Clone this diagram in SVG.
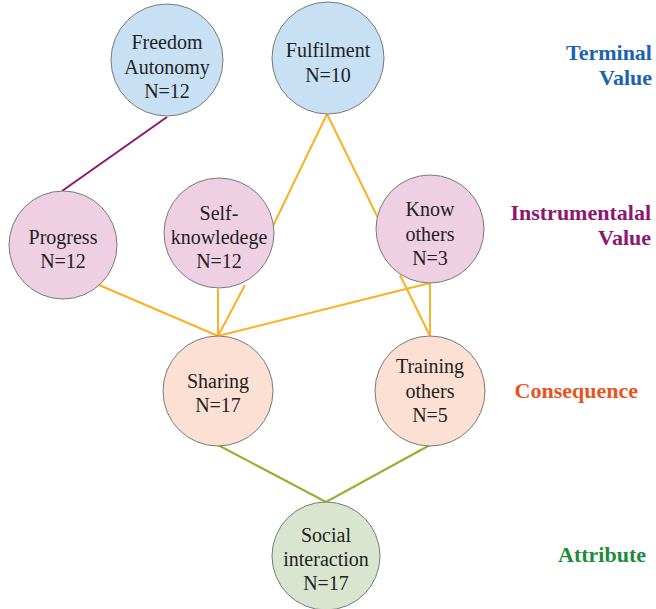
<svg xmlns="http://www.w3.org/2000/svg" width="656" height="609" viewBox="0 0 656 609">
<style>
.n{stroke:#7a7a7a;stroke-width:1}
.t{fill:#C8E0F4}.i{fill:#EFD0E3}.c{fill:#FCE0D4}.a{fill:#D9E5CF}
.tx{font-size:20px;fill:#222;text-anchor:middle}
.lb{font-size:22px;font-weight:bold;text-anchor:end}
.o{stroke:#FDB022;stroke-width:2;fill:none}
.p{stroke:#8E1671;stroke-width:2;fill:none}
.g{stroke:#8DB52E;stroke-width:2;fill:none}
</style>
<rect width="656" height="609" fill="#fff"/>
<g id="connectors">
<line class="p" x1="167" y1="117" x2="62" y2="191"/>
<line class="o" x1="327" y1="114" x2="272" y2="228"/>
<line class="o" x1="327" y1="114" x2="378" y2="218"/>
<line class="o" x1="99" y1="285" x2="218" y2="336"/>
<line class="o" x1="218" y1="289" x2="218" y2="336"/>
<line class="o" x1="245" y1="285" x2="218" y2="336"/>
<line class="o" x1="430" y1="283" x2="218" y2="336"/>
<line class="o" x1="430" y1="283" x2="430" y2="336"/>
<line class="o" x1="400" y1="275" x2="430" y2="336"/>
<line class="g" x1="218" y1="445" x2="326" y2="502"/>
<line class="g" x1="430" y1="445" x2="326" y2="502"/>
</g>
<g font-family="Liberation Serif, Times New Roman, serif">
<g id="freedom"><circle class="n t" cx="167" cy="60" r="56"/>
<text class="tx" x="167" y="49">Freedom</text><text class="tx" x="167" y="74">Autonomy</text><text class="tx" x="167" y="98">N=12</text></g>
<g id="fulfilment"><circle class="n t" cx="328" cy="58" r="56"/>
<text class="tx" x="328" y="57">Fulfilment</text><text class="tx" x="328" y="82">N=10</text></g>
<g id="progress"><circle class="n i" cx="63" cy="245" r="54"/>
<text class="tx" x="63" y="244">Progress</text><text class="tx" x="63" y="268">N=12</text></g>
<g id="selfknowledge"><circle class="n i" cx="219" cy="233" r="55"/>
<text class="tx" x="219" y="220">Self-</text><text class="tx" x="219" y="244">knowledege</text><text class="tx" x="219" y="268">N=12</text></g>
<g id="knowothers"><circle class="n i" cx="430" cy="229" r="54"/>
<text class="tx" x="430" y="216">Know</text><text class="tx" x="430" y="241">others</text><text class="tx" x="430" y="265">N=3</text></g>
<g id="sharing"><circle class="n c" cx="218" cy="391" r="55"/>
<text class="tx" x="218" y="388">Sharing</text><text class="tx" x="218" y="412">N=17</text></g>
<g id="training"><circle class="n c" cx="430" cy="391" r="55"/>
<text class="tx" x="430" y="373">Training</text><text class="tx" x="430" y="398">others</text><text class="tx" x="430" y="422">N=5</text></g>
<g id="social"><circle class="n a" cx="326" cy="556" r="54"/>
<text class="tx" x="326" y="542">Social</text><text class="tx" x="326" y="566">interaction</text><text class="tx" x="326" y="590">N=17</text></g>
<g id="labels">
<text class="lb" x="652" y="60" fill="#1D62B2">Terminal</text>
<text class="lb" x="652" y="85" fill="#1D62B2">Value</text>
<text class="lb" x="651" y="220" fill="#8E1671">Instrumentalal</text>
<text class="lb" x="651" y="245" fill="#8E1671">Value</text>
<text class="lb" x="638" y="398" fill="#E8541E">Consequence</text>
<text class="lb" x="646" y="562" fill="#1E8A3C">Attribute</text>
</g>
</g>
</svg>
